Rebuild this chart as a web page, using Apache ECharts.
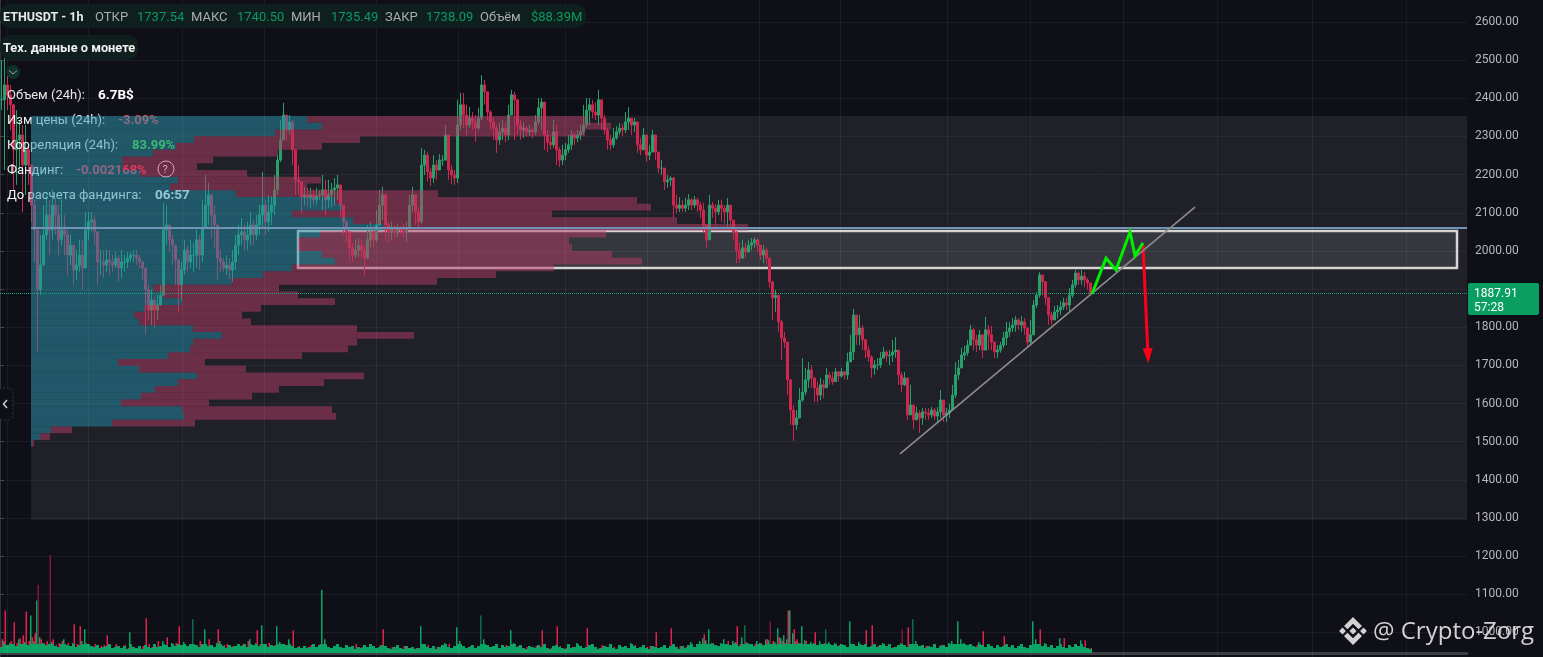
<!DOCTYPE html>
<html><head><meta charset="utf-8">
<style>html,body{margin:0;padding:0;background:#0e0f17;overflow:hidden}#c{width:1543px;height:657px}</style>
<script src="https://cdn.jsdelivr.net/npm/echarts@6/dist/echarts.min.js"></script>
</head><body><div id="c"></div>
<script>
const closes=[
2396,2435,2409,2383,2265,2291,2304,2225,2265,2225,2120,2055,1898,1963,2042,2094,2055,2120,2094,2029,
2055,2042,1989,2015,1950,1963,1989,1955,2055,2076,2081,2050,1971,1971,1963,1976,1971,1963,1981,1955,
1971,1971,1981,1989,1989,1981,1971,1955,1898,1845,1871,1845,1858,1884,2055,2068,2029,2015,1976,1911,
1950,2002,1971,1989,1989,2029,1989,2060,2120,2147,2094,2068,1981,1971,1955,1963,1950,1971,2015,2042,
2050,2029,2042,2068,2042,2068,2094,2120,2076,2102,2120,2160,2238,2291,2356,2317,2338,2265,2186,2181,
2141,2147,2139,2147,2134,2144,2147,2160,2134,2147,2160,2165,2173,2120,2076,2050,2008,1989,2002,2015,
2002,1981,2029,2050,2029,2068,2120,2147,2068,2050,2060,2050,2057,2055,2050,2060,2120,2147,2102,2076,
2225,2251,2207,2191,2225,2212,2238,2238,2304,2212,2199,2191,2330,2383,2356,2330,2348,2338,2322,2348,
2435,2417,2364,2338,2322,2291,2312,2322,2304,2356,2409,2396,2330,2317,2322,2312,2317,2312,2338,2375,
2390,2304,2285,2278,2312,2265,2238,2251,2265,2278,2304,2296,2304,2312,2330,2369,2383,2364,2356,2396,
2348,2317,2291,2278,2296,2312,2322,2317,2338,2348,2330,2338,2278,2265,2304,2251,2259,2304,2259,2217,
2217,2181,2186,2191,2120,2112,2120,2112,2120,2134,2120,2134,2120,2107,2068,2029,2120,2112,2102,2120,
2112,2102,2120,2081,2050,2002,1981,2008,1997,2015,2021,2029,2015,1989,2002,1981,1919,1877,1884,1814,
1772,1761,1662,1583,1544,1562,1609,1630,1662,1688,1667,1641,1622,1649,1641,1675,1667,1657,1683,1672,
1683,1675,1709,1735,1832,1780,1798,1767,1740,1722,1693,1701,1701,1719,1735,1725,1727,1735,1740,1675,
1649,1667,1570,1596,1557,1575,1562,1578,1575,1570,1583,1567,1578,1609,1570,1575,1583,1622,1675,1693,
1727,1733,1753,1793,1767,1753,1780,1740,1793,1780,1761,1735,1740,1753,1772,1788,1798,1806,1819,1806,
1814,1798,1761,1780,1858,1884,1937,1919,1877,1832,1819,1840,1845,1853,1864,1858,1884,1911,1942,1924,
1934,1924,1916,1888];
const lows=[
2369,2212,2369,2317,2160,2173,2212,2102,2147,2173,2076,1971,1735,1884,1963,2029,1989,2029,2042,1989,
2015,1989,1937,1963,1911,1924,1945,1898,1976,2029,2050,2015,1911,1937,1929,1945,1937,1945,1955,1919,
1929,1945,1955,1971,1971,1963,1955,1924,1780,1819,1806,1801,1819,1864,1898,2015,1997,1963,1911,1840,
1871,1937,1945,1955,1945,1955,1950,1971,2060,2068,2034,2008,1924,1945,1945,1937,1926,1919,1950,1989,
2015,2002,2002,2015,2015,2029,2042,2060,2042,2050,2068,2094,2147,2233,2304,2291,2304,2225,2147,2147,
2099,2120,2115,2112,2120,2120,2134,2107,2094,2112,2115,2120,2134,2089,2042,2023,1971,1971,1981,1984,
1981,1937,2002,2010,2008,2023,2068,2081,2029,2021,2029,2034,2036,2042,2034,2023,2055,2102,2068,2060,
2071,2199,2181,2170,2178,2186,2212,2223,2238,2186,2175,2173,2178,2317,2322,2304,2322,2317,2285,2317,
2343,2383,2343,2317,2291,2257,2278,2291,2285,2291,2364,2291,2304,2291,2296,2299,2301,2296,2304,2330,
2317,2265,2259,2265,2270,2225,2220,2225,2238,2257,2265,2278,2285,2291,2304,2322,2330,2348,2343,2330,
2317,2304,2265,2265,2270,2291,2304,2301,2309,2317,2304,2312,2257,2251,2265,2233,2238,2259,2238,2204,
2199,2160,2165,2170,2086,2099,2102,2102,2102,2107,2107,2112,2102,2086,2050,2008,2042,2086,2068,2094,
2076,2071,2060,2055,2029,1968,1968,1981,1981,1997,2002,2008,1997,1976,1968,1963,1903,1819,1840,1788,
1714,1746,1622,1544,1502,1531,1578,1604,1622,1641,1641,1604,1604,1609,1614,1649,1649,1649,1657,1657,
1667,1662,1662,1719,1714,1753,1753,1740,1719,1709,1667,1675,1688,1693,1719,1709,1701,1709,1719,1649,
1630,1646,1557,1570,1533,1557,1523,1544,1557,1557,1562,1557,1552,1562,1552,1552,1562,1596,1614,1662,
1693,1714,1725,1753,1740,1735,1740,1719,1746,1740,1740,1719,1719,1733,1746,1753,1774,1788,1788,1793,
1788,1780,1748,1753,1780,1850,1877,1884,1858,1806,1806,1819,1824,1832,1845,1845,1840,1877,1903,1911,
1911,1905,1898,1884];
const highs=[
2500,2553,2461,2435,2383,2369,2343,2330,2330,2278,2186,2134,1989,2042,2120,2147,2134,2160,2139,2120,
2134,2094,2055,2042,2002,2002,2029,2029,2102,2102,2102,2094,2042,2002,2002,2002,2002,1989,1997,1989,
2002,1989,1997,1997,2002,2002,1989,1963,1937,1911,1898,1879,1884,1911,2126,2120,2068,2042,2015,1955,
1971,2029,2015,2029,2021,2055,2042,2134,2199,2178,2147,2120,2029,2002,1981,1989,1981,2002,2042,2068,
2086,2068,2076,2102,2081,2094,2120,2207,2134,2147,2144,2199,2251,2343,2388,2356,2356,2343,2238,2225,
2173,2168,2165,2165,2160,2165,2160,2199,2186,2186,2178,2191,2199,2160,2112,2081,2050,2021,2029,2034,
2029,2015,2068,2076,2068,2107,2160,2168,2134,2076,2076,2068,2071,2065,2071,2076,2147,2168,2147,2115,
2270,2265,2259,2217,2251,2238,2254,2251,2330,2304,2225,2212,2396,2414,2414,2383,2377,2364,2356,2375,
2461,2448,2409,2369,2348,2330,2335,2343,2338,2383,2422,2417,2364,2343,2338,2327,2330,2325,2356,2401,
2401,2369,2317,2304,2343,2330,2272,2278,2283,2304,2317,2312,2317,2330,2383,2401,2401,2396,2390,2422,
2383,2356,2322,2304,2322,2327,2335,2333,2364,2377,2348,2348,2330,2296,2322,2296,2278,2317,2304,2251,
2238,2207,2199,2196,2194,2147,2141,2134,2139,2149,2139,2144,2139,2128,2126,2068,2147,2128,2123,2134,
2134,2120,2139,2102,2076,2029,2021,2029,2021,2029,2034,2036,2034,2015,2015,2008,1971,1911,1898,1871,
1819,1788,1753,1635,1596,1583,1641,1719,1693,1709,1701,1667,1657,1667,1662,1693,1683,1683,1693,1685,
1693,1685,1733,1780,1848,1824,1832,1806,1767,1751,1727,1714,1719,1735,1748,1740,1740,1767,1774,1735,
1683,1683,1657,1649,1596,1591,1583,1588,1588,1588,1591,1588,1591,1635,1596,1588,1599,1649,1709,1714,
1746,1751,1767,1806,1798,1780,1793,1772,1827,1806,1803,1753,1753,1761,1788,1814,1814,1824,1829,1824,
1829,1824,1793,1819,1871,1892,1945,1937,1919,1877,1840,1856,1858,1869,1877,1877,1903,1924,1950,1947,
1950,1945,1929,1911];
const volGreen=[
6,12,8,10,9,7,14,9,11,8,38,12,53,16,10,8,9,11,7,6,
9,14,8,7,10,6,8,12,24,9,7,6,8,5,6,7,9,5,6,7,
5,7,4,21,6,5,7,4,8,6,5,9,6,7,12,8,6,10,7,9,
8,11,7,9,34,8,6,9,24,7,8,6,10,12,7,5,8,6,7,9,
7,9,6,14,8,10,7,28,9,6,8,7,27,11,9,8,14,7,5,6,
5,7,5,6,9,6,8,64,14,6,5,7,9,6,5,8,6,7,4,6,
5,8,6,9,7,5,6,8,7,5,4,6,8,5,4,7,5,6,4,5,
27,9,6,5,7,4,6,8,10,6,5,7,26,12,7,5,6,8,5,7,
38,14,8,6,7,9,5,8,6,7,23,10,6,8,5,4,7,6,5,8,
6,9,5,4,7,8,6,5,4,9,5,6,10,7,5,6,8,9,6,4,
5,7,6,9,5,4,8,6,7,5,10,7,5,6,8,5,4,7,6,5,
6,8,5,7,9,6,4,7,5,8,11,6,9,12,15,13,24,10,8,7,
10,14,9,8,12,11,7,16,28,10,9,7,12,10,8,14,13,9,11,25,
15,18,14,43,20,12,10,27,13,9,11,10,8,12,9,24,11,8,10,7,
9,8,6,32,9,7,11,8,9,6,7,9,6,8,10,7,9,5,6,8,
10,8,6,9,34,12,7,8,5,7,6,9,5,7,8,6,10,12,9,32,
14,10,8,9,7,6,11,8,6,9,7,5,8,6,7,9,6,8,5,7,
9,6,5,8,32,14,9,7,10,6,8,5,7,15,6,5,8,6,9,7,
13,6,5,4];
const volRed=[
14,43,8,12,31,10,15,18,42,12,16,20,69,14,10,12,99,14,8,10,
12,8,10,6,29,9,27,7,10,8,6,9,5,7,8,18,6,5,9,6,
4,8,5,7,6,3,5,7,35,9,6,4,12,7,5,16,6,8,10,27,
6,9,5,7,4,8,12,6,5,14,7,5,24,6,8,9,5,7,4,6,
8,6,12,5,7,23,9,4,6,10,5,8,6,7,9,5,6,23,4,7,
5,3,6,8,4,6,9,4,7,5,3,6,8,4,5,6,3,7,9,4,
6,3,5,4,7,3,8,24,5,3,6,4,3,5,7,4,3,6,5,3,
6,4,8,5,3,6,4,7,5,9,4,3,6,8,5,4,7,3,5,6,
9,5,4,6,3,7,5,4,8,3,6,4,7,3,5,6,4,3,7,5,
23,6,4,5,3,27,7,4,5,3,6,4,8,3,5,25,6,4,3,5,
8,4,5,3,6,4,7,3,5,4,6,8,3,4,5,6,7,3,21,5,
4,6,3,25,5,4,7,3,6,4,5,3,8,5,19,9,6,10,7,5,
8,6,12,7,10,27,9,7,11,8,6,9,7,10,8,14,32,12,9,16,
12,10,43,9,24,14,10,8,12,7,9,21,6,8,10,7,9,5,6,8,
5,7,4,6,8,5,7,4,23,6,28,5,7,4,6,5,3,6,4,7,
24,6,26,5,8,4,6,3,7,5,4,6,3,8,5,4,7,3,6,5,
6,4,7,3,5,8,4,22,6,3,5,4,7,3,17,5,4,6,3,5,
4,6,3,7,5,9,24,6,4,5,7,3,6,4,15,3,5,6,4,7,
3,13,4,5];
const dimRedBars=[12,16,256,300];
const dimGreenBars=[64,160,248,275,304];
const profileBuy=[276,291,244,163,145,122,91,91,109,147,139,205,304,311,261,322,352,289,267,267,291,304,261,232,201,122,132,151,114,103,108,162,191,162,159,137,87,108,166,147,124,110,90,151,153,81,20,9,1];
const profileSell=[280,289,310,166,146,125,91,75,107,143,137,202,302,309,260,324,365,286,271,274,290,307,262,233,205,126,135,153,116,108,112,164,192,164,158,134,87,107,167,146,124,111,88,150,152,83,21,10,2];
const priceTicks={min:900,max:2700,step:100};
const lastPrice=1887.91;
const dayBars=[2.33,29.33,60.67,88,125.33,152.67,188.33,215.67,253,280,315.67,343.33,374.33,405.67,437.33,468.67];
const totalBars=489;
const rangeBars=[10.33,489], rangeHigh=2354, rangeLow=1295, pocPrice=2060;
const zoneBars=[99.33,485.67], zoneHigh=2052, zoneLow=1955;
const trendBars=[300,398.33], trendPrices=[1468,2115];
const pathBars=[364,368.67,372,376.67,378.33,381], pathPrices=[1887,1981,1950,2050,1987,2021];
const dropBars=[381,382.67], dropPrices=[2015,1725];

const opens=closes.map((c,i)=>i?closes[i-1]:c);
const candles=closes.map((c,i)=>[opens[i],c,Math.min(lows[i],opens[i],c),Math.max(highs[i],opens[i],c)]);
const cats=Array.from({length:totalBars},(_,i)=>String(i));
const binLabels=profileBuy.map((_,i)=>String(i));
const pairs=(a,b)=>a.map((v,i)=>[v,b[i]]);
const FONT='Roboto, "Noto Sans", sans-serif';
function T(x,y,text,fill,size,bold,z){return {type:'text',z:z==null?20:z,silent:true,style:{x,y,text,fill,font:(bold?'bold ':'')+size+'px '+FONT,verticalAlign:'middle',textVerticalAlign:'middle'}};}
function R(x,y,w,h,r,fill,z,stroke,dash){return {type:'rect',z:z==null?19:z,silent:true,shape:{x,y,width:w,height:h,r},style:{fill,stroke:stroke||null,lineWidth:stroke?1:0,lineDash:dash||null}};}
function P(points,fill,z){return {type:'polygon',z:z==null?20:z,silent:true,shape:{points},style:{fill}};}
function L(points,stroke,w,z){return {type:'polyline',z:z==null?20:z,silent:true,shape:{points},style:{stroke,fill:null,lineWidth:w}};}
const GR='#0a9a60',LB='#a9abb0';
const logo='#d2d2d2',cx=1353,cy=631;
const dm=(x,y,r)=>P([[x,y-r],[x+r,y],[x,y+r],[x-r,y]],logo,30);
const elements=[
 R(0,4,586,24,10,'#0f1f1d'),
 T(3,18,'ETHUSDT - 1h','#e8e8e8',12.5,true),
 T(95,18,'ОТКР',LB,13),T(137,18,'1737.54',GR,13),
 T(191,18,'МАКС',LB,13),T(237,18,'1740.50',GR,13),
 T(291,18,'МИН',LB,13),T(331,18,'1735.49',GR,13),
 T(385,18,'ЗАКР',LB,13),T(426,18,'1738.09',GR,13),
 T(480,18,'Объём',LB,13),T(531,18,'$88.39M',GR,13),
 R(0,35,138,25,10,'#0f1f1d'),
 T(3,48.5,'Тех. данные о монете','#f0f0f0',12.8,true),
 {type:'circle',z:19,silent:true,shape:{cx:13,cy:72,r:7},style:{fill:'#12302a'}},
 L([[9,70.5],[13,74],[17,70.5]],'#9aa5a0',1),
 T(7,96,'Объем (24h):','#e6e6e6',13,false,2),T(98,96,'6.7B$','#ffffff',13.5,true,2),
 T(7,121,'Изм цены (24h):','#f2f2f2',13,false,2),T(118,121,'-3.09%','#e8505f',13,true,2),
 T(7,146,'Корреляция (24h):','#f2f2f2',13,false,2),T(132,146,'83.99%','#3db873',13,true,20),
 T(7,171,'Фандинг:','#f2f2f2',13,false,2),T(76,171,'-0.002168%','#ff3b5c',13,true,2),
 {type:'circle',z:2,silent:true,shape:{cx:166,cy:169,r:8},style:{fill:null,stroke:'#ffffff',lineWidth:1}},
 T(162.5,170,'?','#ffffff',11,false,2),
 T(7,196,'До расчета фандинга:','#f5f5f5',13,false,2),T(155,196,'06:57','#ffffff',13.5,true,2),
 R(-2,388,15,32,5,'#0e0f17',19,'#1d4a3c',[2,2]),
 L([[7,400],[3.5,404],[7,408]],'#d0d0d0',1.5),
 R(1468,283,71,32,2,'#0a9f62'),
 T(1474,294,'1887.91','#ffffff',12),T(1474,308,'57:28','#ffffff',12),
 dm(cx,cy,3.6),dm(cx-10.5,cy,3.4),dm(cx+10.5,cy,3.4),
 P([[cx,cy-14],[cx+9,cy-5],[cx+5.5,cy-1.8],[cx,cy-7.3],[cx-5.5,cy-1.8],[cx-9,cy-5]],logo,30),
 P([[cx,cy+14],[cx+9,cy+5],[cx+5.5,cy+1.8],[cx,cy+7.3],[cx-5.5,cy+1.8],[cx-9,cy+5]],logo,30),
 {type:'text',z:30,silent:true,style:{x:1373,y:632,text:'@ Crypto-Zorg',fill:'#d2d2d2',font:'24px "Open Sans", "Noto Sans", sans-serif',verticalAlign:'middle',textVerticalAlign:'middle'}}
];
const chart=echarts.init(document.getElementById('c'),null,{width:1543,height:657,renderer:'canvas'});
const faint='rgba(255,255,255,0.055)';
chart.setOption({
 animation:false,backgroundColor:'#0e0f17',
 grid:[
  {left:0,top:22-(priceTicks.max-2600)*0.3815,width:1467,height:(priceTicks.max-priceTicks.min)*0.3815,outerBoundsMode:'none',containLabel:false},
  {left:0,top:554,width:1467,height:99,outerBoundsMode:'none'},
  {left:31,top:116,width:1436,height:330.75,outerBoundsMode:'none'}
 ],
 xAxis:[
  {type:'category',gridIndex:0,data:cats,show:false},
  {type:'value',gridIndex:0,min:0,max:totalBars,show:false},
  {type:'category',gridIndex:1,data:cats,axisLine:{show:true,lineStyle:{color:'#3d3e43',width:3}},axisTick:{show:false},axisLabel:{show:false},splitLine:{show:false}},
  {type:'value',gridIndex:2,min:0,max:1436,show:false},
  {type:'category',gridIndex:1,data:cats,show:false}
 ],
 yAxis:[
  {type:'value',gridIndex:0,position:'right',min:priceTicks.min,max:priceTicks.max,interval:priceTicks.step,
   axisLine:{show:true,lineStyle:{color:'#33343c'}},axisTick:{show:true,length:4,lineStyle:{color:'#44454d'}},
   axisLabel:{color:'#b6b7ba',fontFamily:FONT,fontSize:12,margin:8,formatter:v=>v.toFixed(2)},
   splitLine:{show:true,lineStyle:{color:faint,width:1}}},
  {type:'value',gridIndex:1,min:0,max:100,show:false},
  {type:'category',gridIndex:2,inverse:true,data:binLabels,show:false}
 ],
 graphic:{elements},
 series:[
  {type:'line',name:'range',xAxisIndex:1,yAxisIndex:0,data:[],z:0,silent:true,
   markArea:{silent:true,itemStyle:{color:'rgba(255,255,255,0.075)'},data:[[{coord:[rangeBars[0],rangeHigh]},{coord:[rangeBars[1],rangeLow]}]]},
   markLine:{silent:true,symbol:'none',label:{show:false},lineStyle:{color:faint,width:1,type:'solid'},data:dayBars.map(b=>({xAxis:b}))}},
  {type:'candlestick',name:'ETHUSDT',xAxisIndex:0,yAxisIndex:0,data:candles,barWidth:1.7,z:1,silent:true,
   itemStyle:{color:'#27a06c',color0:'#cf2650',borderColor:'#27a06c',borderColor0:'#cf2650',borderWidth:1},
   markLine:{silent:true,symbol:'none',label:{show:false},lineStyle:{color:'#1ba57c',type:'dotted',width:1},data:[{yAxis:lastPrice}]}},
  {type:'bar',name:'volBuy',xAxisIndex:2,yAxisIndex:1,barWidth:1.5,barGap:0,z:2,silent:true,
   data:volGreen.map((v,i)=>({value:v,itemStyle:{color:dimGreenBars.includes(i)?'#0f6b4a':'#0aa565'}}))},
  {type:'bar',name:'volSell',xAxisIndex:2,yAxisIndex:1,barWidth:1.5,barGap:0,z:2,silent:true,
   data:volRed.map((v,i)=>({value:v,itemStyle:{color:dimRedBars.includes(i)?'#7a1b33':'#e0234e'}}))},
  {type:'bar',name:'volBase',xAxisIndex:4,yAxisIndex:1,barWidth:3,z:3,silent:true,
   data:volGreen.map(v=>Math.min(v,9)),itemStyle:{color:'#0aa565'}},
  {type:'bar',name:'profileBuy',xAxisIndex:3,yAxisIndex:2,stack:'p',barCategoryGap:'1%',z:3,silent:true,data:profileBuy,itemStyle:{color:'rgba(34,143,170,0.5)'}},
  {type:'bar',name:'profileSell',xAxisIndex:3,yAxisIndex:2,stack:'p',barCategoryGap:'1%',z:3,silent:true,data:profileSell,itemStyle:{color:'rgba(184,59,102,0.5)'}},
  {type:'line',name:'poc',xAxisIndex:1,yAxisIndex:0,z:4,silent:true,symbol:'none',data:[[rangeBars[0],pocPrice],[rangeBars[1],pocPrice]],lineStyle:{color:'#6f93b5',width:2.2}},
  {type:'line',name:'zone',xAxisIndex:1,yAxisIndex:0,data:[],z:5,silent:true,
   markArea:{silent:true,itemStyle:{color:'rgba(255,255,255,0.105)',borderColor:'#d4d4d4',borderWidth:2.5},data:[[{coord:[zoneBars[0],zoneHigh]},{coord:[zoneBars[1],zoneLow]}]]}},
  {type:'line',name:'trend',xAxisIndex:1,yAxisIndex:0,z:6,silent:true,symbol:'none',data:pairs(trendBars,trendPrices),lineStyle:{color:'#8c8c8c',width:1.6}},
  {type:'line',name:'path',xAxisIndex:1,yAxisIndex:0,z:7,silent:true,symbol:'none',data:pairs(pathBars,pathPrices),lineStyle:{color:'#00ee00',width:3,join:'miter'}},
  {type:'line',name:'drop',xAxisIndex:1,yAxisIndex:0,data:[],z:7,silent:true,
   markLine:{silent:true,symbol:['none','triangle'],symbolSize:[10,15],label:{show:false},lineStyle:{color:'#ff0018',width:3,type:'solid'},itemStyle:{color:'#ff0018'},
    data:[[{coord:[dropBars[0],dropPrices[0]]},{coord:[dropBars[1],dropPrices[1]]}]]}}
 ]
});
</script></body></html>
